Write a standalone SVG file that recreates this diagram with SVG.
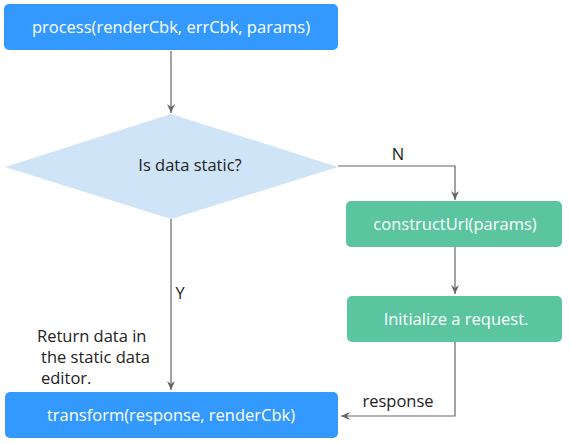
<svg xmlns="http://www.w3.org/2000/svg" width="570" height="444" viewBox="0 0 570 444">
<defs>
<marker id="ah" markerWidth="10" markerHeight="10" refX="9" refY="5" orient="auto" markerUnits="userSpaceOnUse">
<path d="M0,1 L9,5 L0,9 L3,5 Z" fill="#666"/>
</marker>
<style>
.blue{fill:#3399ff}
.green{fill:#5bc5a0}
.wt{fill:#fff;font-family:"Open Sans","Noto Sans",sans-serif;font-size:16.5px;text-anchor:middle}
.dt{fill:#222;font-family:"Open Sans","Noto Sans",sans-serif;font-size:16.5px}
.ln{stroke:#666;stroke-width:1.2;fill:none}
</style>
</defs>
<rect width="570" height="444" fill="#fff"/>
<g id="connectors">
<path class="ln" d="M171,51 V113" marker-end="url(#ah)"/>
<path class="ln" d="M338,166 H455 V200" marker-end="url(#ah)"/>
<path class="ln" d="M455,247 V294" marker-end="url(#ah)"/>
<path class="ln" d="M455,342 V416 H341" marker-end="url(#ah)"/>
<path class="ln" d="M171,219 V390" marker-end="url(#ah)"/>
<text class="dt" x="398" y="160" text-anchor="middle">N</text>
<text class="dt" x="180" y="299" text-anchor="middle">Y</text>
<text class="dt" x="398" y="407" text-anchor="middle">response</text>
<text class="dt" x="37" y="342">Return data in</text>
<text class="dt" x="41" y="363">the static data</text>
<text class="dt" x="41" y="384">editor.</text>
</g>
<g id="process">
<rect class="blue" x="4" y="4" width="334" height="46" rx="5"/>
<text class="wt" x="171" y="33">process(renderCbk, errCbk, params)</text>
</g>
<g id="decision">
<polygon points="5,167 171,114 338,167 171,219" fill="#d0e4f8"/>
<text class="dt" x="190" y="171" text-anchor="middle">Is data static?</text>
</g>
<g id="constructUrl">
<rect class="green" x="346" y="201" width="216" height="46" rx="5"/>
<text class="wt" x="455" y="230">constructUrl(params)</text>
</g>
<g id="initRequest">
<rect class="green" x="347" y="296" width="215" height="46" rx="5"/>
<text class="wt" x="456" y="325">Initialize a request.</text>
</g>
<g id="transform">
<rect class="blue" x="5" y="392" width="333" height="46" rx="5"/>
<text class="wt" x="171" y="421">transform(response, renderCbk)</text>
</g>
</svg>
